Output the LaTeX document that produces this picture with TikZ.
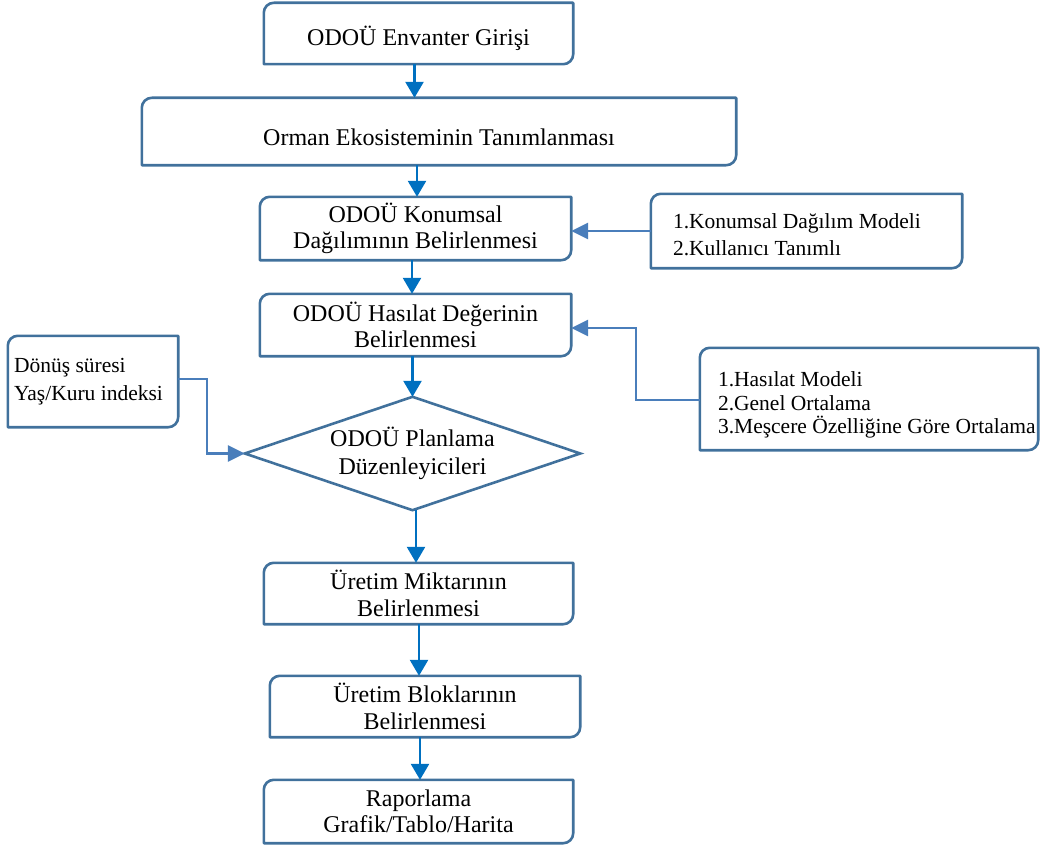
\documentclass[tikz,border=0pt]{standalone}
\usepackage{fontspec}
\setmainfont{Liberation Serif}
\usetikzlibrary{arrows.meta}

\definecolor{boxblue}{HTML}{41719C}
\definecolor{sideblue}{HTML}{4A7EBB}
\definecolor{flowblue}{HTML}{0070C0}

\tikzset{
  x=1pt, y=1pt,
  boxline/.style={draw=boxblue, line width=2.6pt, line join=round},
  flowtext/.style={draw=none, inner sep=0pt, align=center, font=\fontsize{24}{26.5}\selectfont},
  flowbox/.style={flowtext, execute at begin node={\rule{0pt}{29pt}}},
  notebox/.style={draw=none, inner sep=0pt},
  notetext/.style={inner sep=0pt, anchor=west, align=left},
  flowarrow/.style={draw=flowblue, line width=2.6pt, -{Triangle[length=16pt,width=18pt]}},
  sidearrow/.style={draw=sideblue, line width=2.6pt, -{Triangle[length=17pt,width=16pt]}},
}

% rectangle outline with rounded top-left and bottom-right corners
\newcommand\diagcorners[1]{%
  \draw[boxline] (#1.south west) -- ([yshift=-10pt]#1.north west)
    arc[start angle=180, end angle=90, radius=10pt] -- (#1.north east)
    -- ([yshift=10pt]#1.south east)
    arc[start angle=0, end angle=-90, radius=10pt] -- cycle;}

\begin{document}
\begin{tikzpicture}
\useasboundingbox (0,0) rectangle (1040,-848);

% main flow
\node[flowbox, minimum width=309, minimum height=61] (b1) at (418.5,-33.5) {ODOÜ Envanter Girişi};
\node[flowbox, minimum width=594, minimum height=67] (b2) at (439,-131.5) {Orman Ekosisteminin Tanımlanması};
\node[flowbox, minimum width=311, minimum height=63] (b3) at (415.5,-228.5) {ODOÜ Konumsal\\Dağılımının Belirlenmesi};
\node[flowbox, minimum width=311, minimum height=62] (b4) at (415.5,-325) {ODOÜ Hasılat Değerinin\\Belirlenmesi};
\node[flowtext, minimum width=335, minimum height=113, font=\fontsize{24}{28}\selectfont] (dm) at (412.5,-453.5) {ODOÜ Planlama\\Düzenleyicileri};
\node[flowbox, minimum width=309, minimum height=61] (b5) at (418.5,-593.5) {Üretim Miktarının\\Belirlenmesi};
\node[flowbox, minimum width=310, minimum height=61] (b6) at (425,-706.5) {Üretim Bloklarının\\Belirlenmesi};
\node[flowbox, minimum width=309, minimum height=63] (b7) at (418.5,-811.5) {Raporlama\\Grafik/Tablo/Harita};

% side inputs
\node[notebox, minimum width=311, minimum height=74] (sA) at (806.5,-231) {};
\node[notetext, font=\fontsize{21.5}{27}\selectfont] (sAt) at ([xshift=22pt,yshift=-4pt]sA.west)
  {1.Konumsal Dağılım Modeli\\2.Kullanıcı Tanımlı};
\node[notebox, minimum width=338, minimum height=102] (sB) at (869,-399) {};
\node[notetext, font=\fontsize{21.5}{23.5}\selectfont] (sBt) at ([xshift=18pt,yshift=-6pt]sB.west)
  {1.Hasılat Modeli\\2.Genel Ortalama\\3.Meşcere Özelliğine Göre Ortalama};
\node[notebox, minimum width=170, minimum height=91] (sC) at (93,-381.5) {};
\node[notetext, font=\fontsize{21.5}{28}\selectfont] (sCt) at ([xshift=6pt]sC.west)
  {Dönüş süresi\\Yaş/Kuru indeksi};

\foreach \n in {b1,b2,b3,b4,b5,b6,b7,sA,sB,sC} {\diagcorners{\n}}
\draw[boxline, line join=miter] (dm.west) -- (dm.north) -- (dm.east) -- (dm.south) -- cycle;

% vertical flow arrows
\draw[flowarrow] ([xshift=-4pt]b1.south) -- ([xshift=-4pt]b1.south |- b2.north);
\draw[flowarrow] ([xshift=-22pt]b2.south) -- ([xshift=-22pt]b2.south |- b3.north);
\draw[flowarrow] ([xshift=-3.5pt]b3.south) -- ([xshift=-3.5pt]b3.south |- b4.north);
\draw[flowarrow] (b4.south -| dm.north) -- (dm.north);
\draw[flowarrow] ([xshift=3.5pt]dm.south) -- ([xshift=3.5pt]dm.south |- b5.north);
\draw[flowarrow] ([xshift=0.5pt]b5.south) -- ([xshift=0.5pt]b5.south |- b6.north);
\draw[flowarrow] ([xshift=-5pt]b6.south) -- ([xshift=-5pt]b6.south |- b7.north);

% side input arrows
\draw[sidearrow] (sA.west) -- (sA.west -| b3.east);
\coordinate (bendB) at (636,-328);
\draw[sidearrow] ([yshift=-1pt]sB.west) -| (bendB) -- (bendB -| b4.east);
\coordinate (bendC) at (207,-379);
\draw[sidearrow] (sC.east |- bendC) -- (bendC) |- (dm.west);
\end{tikzpicture}
\end{document}
